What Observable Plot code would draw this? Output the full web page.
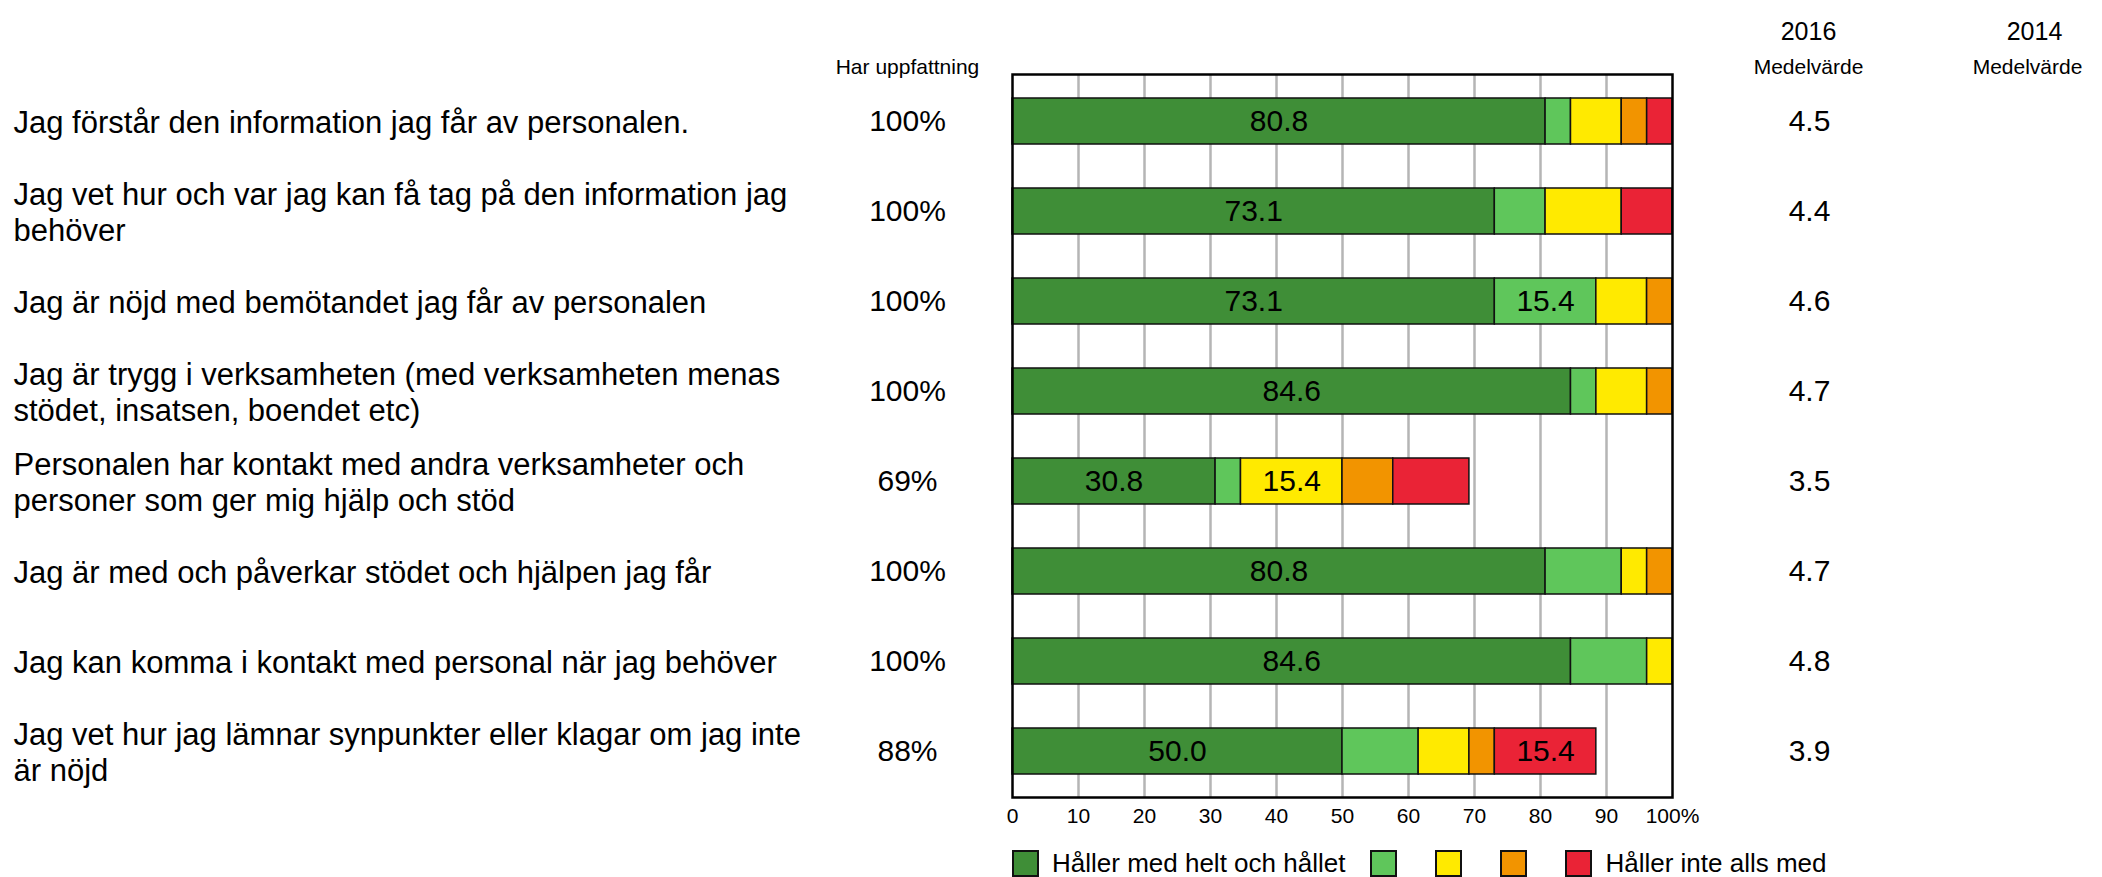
<!DOCTYPE html>
<html>
<head>
<meta charset="utf-8">
<script src="https://cdn.jsdelivr.net/npm/d3@7"></script>
<script src="https://cdn.jsdelivr.net/npm/@observablehq/plot@0.6"></script>
<style>
  html, body { margin: 0; padding: 0; background: #fff; }
  body { width: 2102px; height: 877px; overflow: hidden; font-family: "Liberation Sans", Arial, sans-serif; color: #000; }
  #chart svg { display: block; }
  #legend { display: flex; align-items: center; height: 32px; box-sizing: border-box; padding-top: 5px; padding-left: 1012px; font-size: 26px; line-height: 27px; }
  #legend .sw { width: 23px; height: 23px; border: 2.5px solid #111; box-sizing: content-box; flex: none; }
  #legend .lab { margin-left: 13px; }
</style>
</head>
<body>
<div id="chart"></div>
<div id="legend"></div>
<script>
// Questions (y categories)
const questions = [
  "Jag förstår den information jag får av personalen.",
  "Jag vet hur och var jag kan få tag på den information jag\nbehöver",
  "Jag är nöjd med bemötandet jag får av personalen",
  "Jag är trygg i verksamheten (med verksamheten menas\nstödet, insatsen, boendet etc)",
  "Personalen har kontakt med andra verksamheter och\npersoner som ger mig hjälp och stöd",
  "Jag är med och påverkar stödet och hjälpen jag får",
  "Jag kan komma i kontakt med personal när jag behöver",
  "Jag vet hur jag lämnar synpunkter eller klagar om jag inte\när nöjd"
];
// Response categories and colours
const categories = ["Håller med helt och hållet", "Svar 4", "Svar 3", "Svar 2", "Håller inte alls med"];
const colors = ["#3f8e37", "#5fc65b", "#ffea00", "#f29400", "#ea2336"];
// Series values (% of all respondents)
const helt   = [80.77, 73.08, 73.08, 84.62, 30.77, 80.77, 84.62, 50.00];
const svar4  = [3.85, 7.69, 15.38, 3.85, 3.85, 11.54, 11.54, 11.54];
const svar3  = [7.69, 11.54, 7.69, 7.69, 15.38, 3.85, 3.85, 7.69];
const svar2  = [3.85, 0, 3.85, 3.85, 7.69, 3.85, 0, 3.85];
const inte   = [3.85, 7.69, 0, 0, 11.54, 0, 0, 15.38];
// Side columns
const harUppfattning = [100, 100, 100, 100, 69, 100, 100, 88];
const medel2016 = [4.5, 4.4, 4.6, 4.7, 3.5, 4.7, 4.8, 3.9];
const xTicks = [0, 10, 20, 30, 40, 50, 60, 70, 80, 90, 100];

const series = [helt, svar4, svar3, svar2, inte];
const segs = [];
questions.forEach((q, i) => {
  series.forEach((s, j) => {
    if (s[i] > 0) segs.push({q, cat: categories[j], value: s[i]});
  });
});
const rows = questions.map((q, i) => ({q, share: harUppfattning[i], mean: medel2016[i]}));

const font = "Liberation Sans, Arial, sans-serif";

const chart = Plot.plot({
  width: 2102,
  height: 845,
  marginLeft: 1012,
  marginRight: 430,
  marginTop: 74,
  marginBottom: 48,
  style: {fontFamily: font, color: "#000", background: "#fff", overflow: "visible"},
  x: {domain: [0, 100], axis: null, label: null},
  y: {domain: questions, axis: null, paddingInner: 0.49, paddingOuter: 0.245},
  color: {domain: categories, range: colors},
  marks: [
    Plot.ruleX(xTicks.filter(d => d > 0 && d < 100), {stroke: "#b5b5b5", strokeWidth: 2.5}),
    Plot.barX(segs, Plot.stackX({x: "value", y: "q", z: "cat", order: categories, fill: "cat", stroke: "#111", strokeWidth: 1.5})),
    Plot.text(segs, Plot.stackX({x: "value", y: "q", z: "cat", order: categories,
      text: d => d.value >= 15 ? d.value.toFixed(1) : "", fontSize: 30, fill: "#000"})),
    Plot.frame({stroke: "#000", strokeWidth: 2.5}),
    Plot.axisX({ticks: xTicks, tickSize: 0, tickPadding: 11, fontSize: 21, label: null,
      tickFormat: d => d === 100 ? "100%" : String(d)}),
    // left question labels
    Plot.text(rows, {y: "q", text: "q", frameAnchor: "left", textAnchor: "start", dx: -999,
      fontSize: 31, lineHeight: 1.17}),
    // Har uppfattning column
    Plot.text(rows, {y: "q", text: d => d.share + "%", frameAnchor: "left", textAnchor: "middle", dx: -105, fontSize: 30}),
    // 2016 mean column
    Plot.text(rows, {y: "q", text: d => d.mean.toFixed(1), frameAnchor: "right", textAnchor: "middle", dx: 137, fontSize: 30}),
    // headers
    Plot.text(["Har uppfattning"], {text: d => d, frameAnchor: "top-left", dx: -105, dy: -15, fontSize: 21, textAnchor: "middle"}),
    Plot.text(["2016"], {text: d => d, frameAnchor: "top-right", dx: 136, dy: -52, fontSize: 25, textAnchor: "middle"}),
    Plot.text(["Medelvärde"], {text: d => d, frameAnchor: "top-right", dx: 136, dy: -15, fontSize: 21, textAnchor: "middle"}),
    Plot.text(["2014"], {text: d => d, frameAnchor: "top-right", dx: 362, dy: -52, fontSize: 25, textAnchor: "middle"}),
    Plot.text(["Medelvärde"], {text: d => d, frameAnchor: "top-right", dx: 355, dy: -15, fontSize: 21, textAnchor: "middle"})
  ]
});
document.getElementById("chart").appendChild(chart);

// Legend
const legend = document.getElementById("legend");
const gaps = [0, 25, 38, 38, 38];
categories.forEach((c, i) => {
  const sw = document.createElement("div");
  sw.className = "sw";
  sw.style.background = colors[i];
  sw.style.marginLeft = gaps[i] + "px";
  legend.appendChild(sw);
  if (i === 0 || i === categories.length - 1) {
    const lab = document.createElement("span");
    lab.className = "lab";
    lab.textContent = c;
    legend.appendChild(lab);
  }
});
</script>
</body>
</html>
